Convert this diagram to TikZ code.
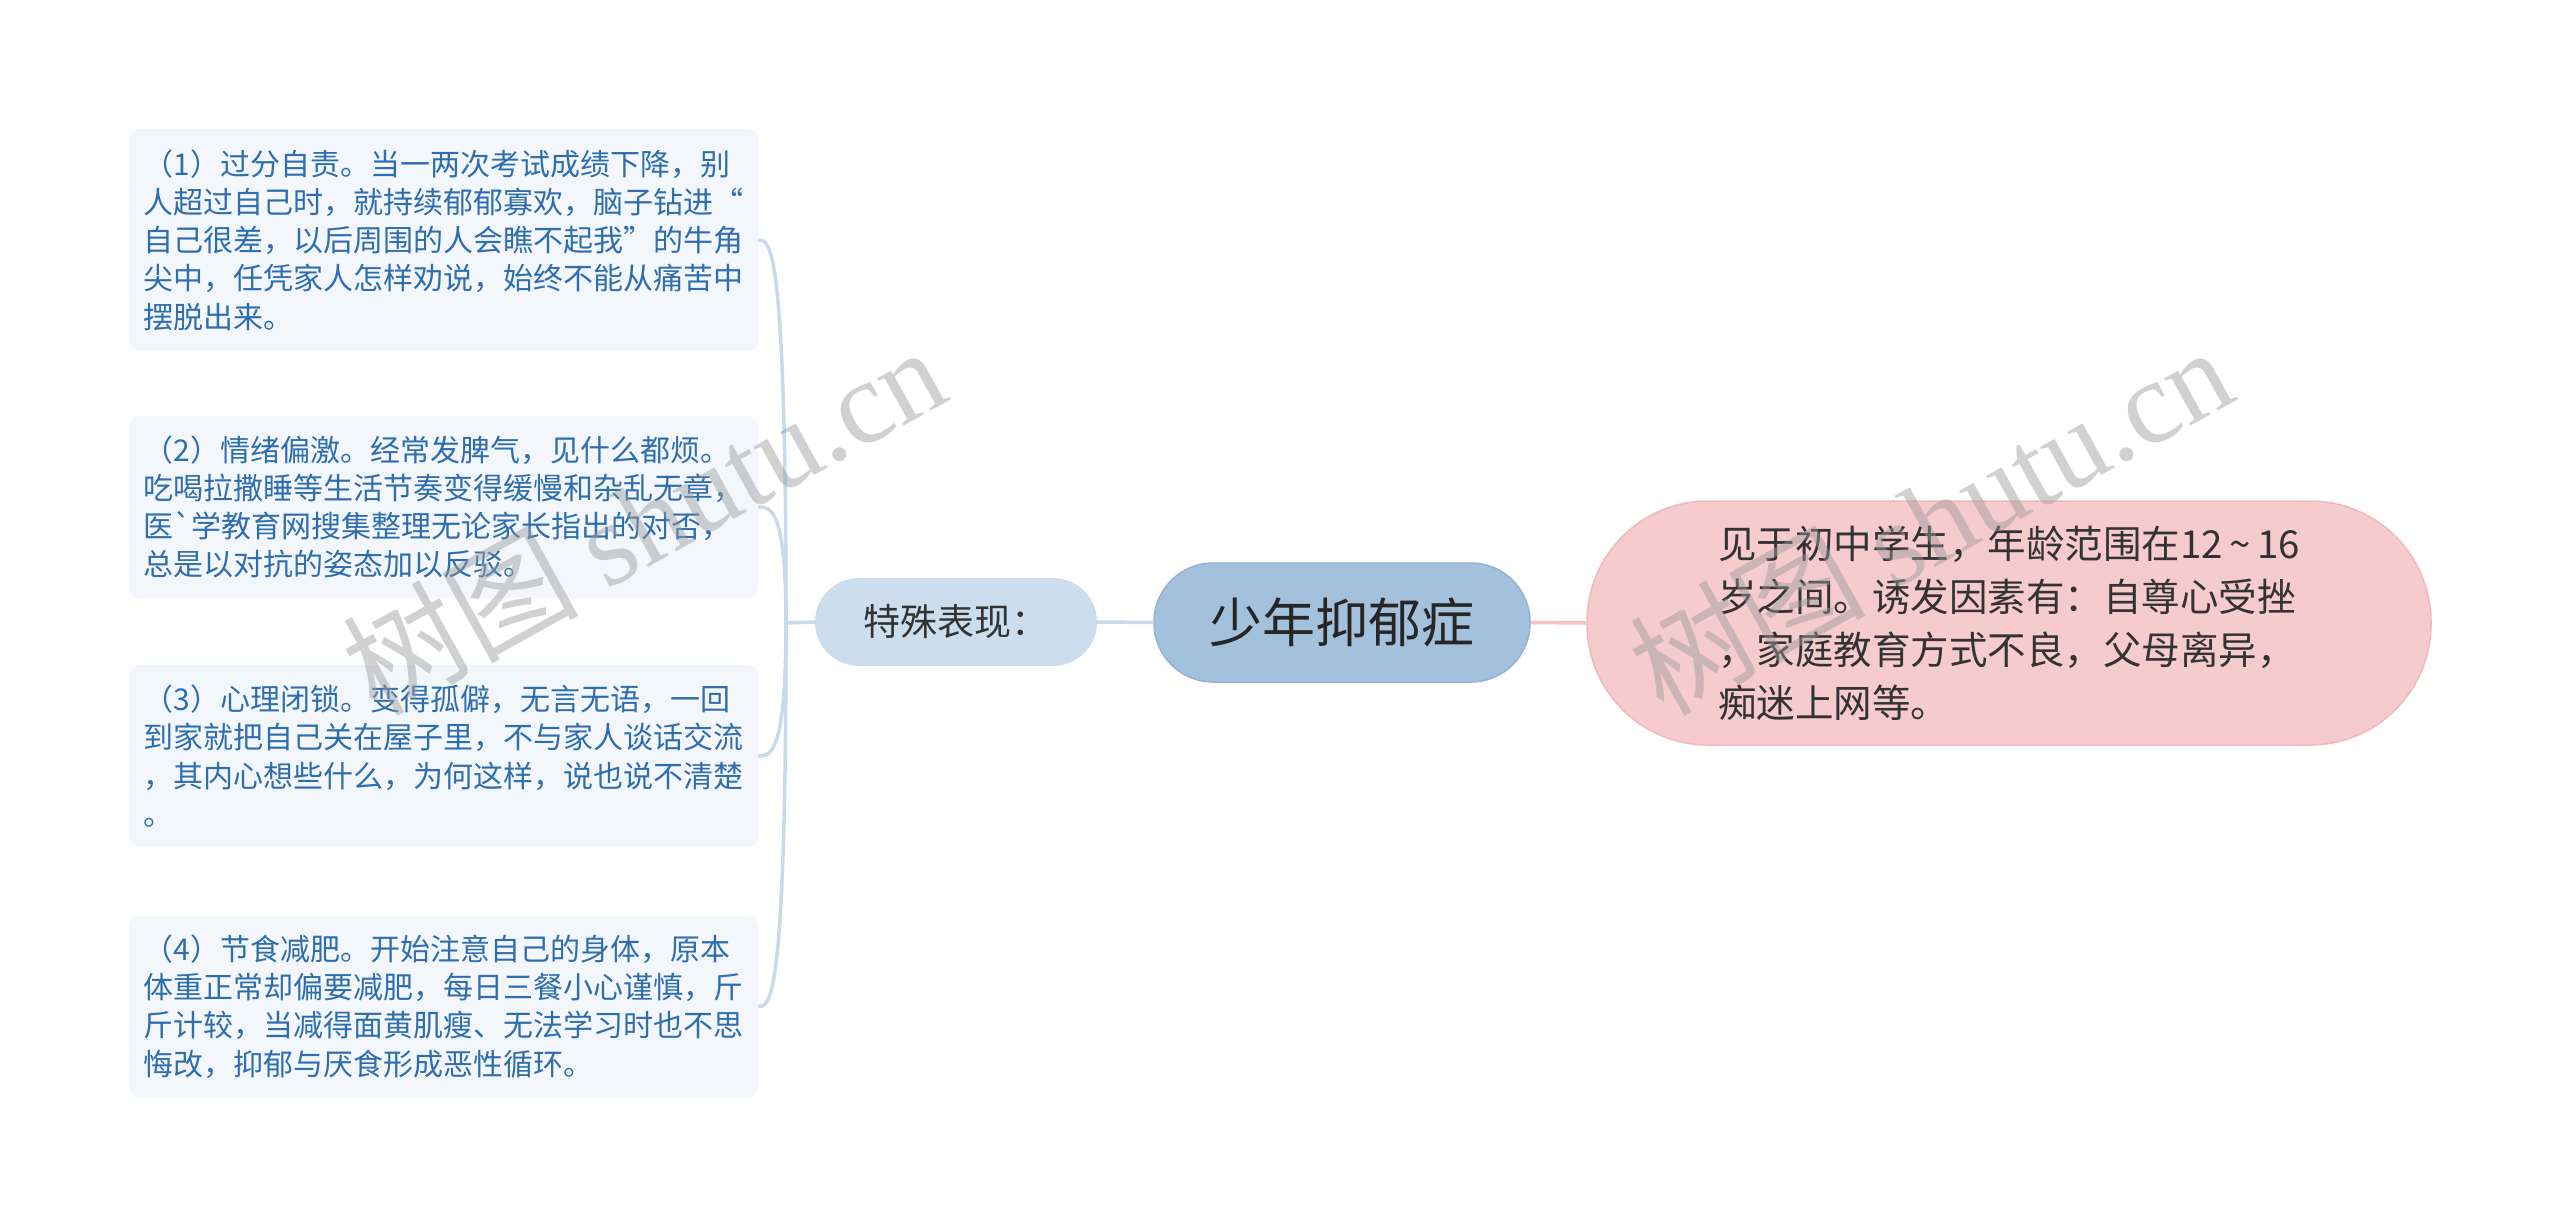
\documentclass[tikz,border=0pt]{standalone}
\usepackage{fontspec}
\setmainfont{Noto Sans CJK SC}
\newfontfamily\rawcjk{Noto Sans CJK SC}[Ligatures=TeXOff]
\newfontfamily\wmlatin{Liberation Serif}
\usetikzlibrary{calc}
\definecolor{leafbg}{HTML}{F3F7FC}
\definecolor{leaftext}{HTML}{2F6EAE}
\definecolor{linec}{HTML}{C9DAEB}
\definecolor{subbg}{HTML}{CCDDEE}
\definecolor{rootbg}{HTML}{A3C0DC}
\definecolor{rootbd}{HTML}{95B4D3}
\definecolor{pinkbg}{HTML}{F6CBCD}
\definecolor{pinkbd}{HTML}{EFBABD}
\definecolor{pinkline}{HTML}{F4C3C5}
\definecolor{txt}{HTML}{333333}
\definecolor{wmgray}{HTML}{9A9A9A}
\tikzset{
  leafbox/.style={fill=leafbg, rounded corners=10pt, minimum width=629pt, text width=600pt,
    inner xsep=14.5pt, align=left, text=leaftext, font=\fontsize{30}{38.3}\selectfont},
  subbox/.style={fill=subbg, rounded corners=44pt, minimum width=282pt, minimum height=88pt,
    text=txt, font=\fontsize{37}{44}\selectfont},
  rootbox/.style={fill=rootbg, draw=rootbd, line width=1.5pt, rounded corners=59pt, minimum width=376pt,
    minimum height=119pt, text=black!85, font=\fontsize{53}{60}\selectfont},
  rightbox/.style={fill=pinkbg, draw=pinkbd, line width=1.5pt, rounded corners=121pt, minimum width=844pt,
    minimum height=244pt, align=left, text=txt, font=\fontsize{38.5}{53}\selectfont},
  conn/.style={draw=linec, line width=3.5pt},
  pinkconn/.style={draw=pinkline, line width=3.5pt},
  wm/.style={text=wmgray, opacity=0.45, font=\fontsize{118}{130}\selectfont}
}
\begin{document}
\begin{tikzpicture}[x=1pt, y=-1pt]
\useasboundingbox (0,0) rectangle (2560,1227);
\fill[white] (0,0) rectangle (2560,1227);

\node[leafbox, minimum height=222pt] (l1) at (443.5,240) {（1）过分自责。当一两次考试成绩下降，别\\人超过自己时，就持续郁郁寡欢，脑子钻进“\\自己很差，以后周围的人会瞧不起我”的牛角\\尖中，任凭家人怎样劝说，始终不能从痛苦中\\摆脱出来。};
\node[leafbox, minimum height=182pt] (l2) at (443.5,507) {（2）情绪偏激。经常发脾气，见什么都烦。\\吃喝拉撒睡等生活节奏变得缓慢和杂乱无章，\\医{\rawcjk `}学教育网搜集整理无论家长指出的对否，\\总是以对抗的姿态加以反驳。};
\node[leafbox, minimum height=182pt] (l3) at (443.5,756) {（3）心理闭锁。变得孤僻，无言无语，一回\\到家就把自己关在屋子里，不与家人谈话交流\\，其内心想些什么，为何这样，说也说不清楚\\。};
\node[leafbox, minimum height=181pt] (l4) at (443.5,1006.5) {（4）节食减肥。开始注意自己的身体，原本\\体重正常却偏要减肥，每日三餐小心谨慎，斤\\斤计较，当减得面黄肌瘦、无法学习时也不思\\悔改，抑郁与厌食形成恶性循环。};

\node[subbox] (sub) at (956,622) {特殊表现：};
\node[rootbox] (root) at (1342,622.5) {少年抑郁症};
\node[rightbox] (right) at (2009,623) {见于初中学生，年龄范围在12\,\symbol{126}\,16\\岁之间。诱发因素有：自尊心受挫\\，家庭教育方式不良，父母离异，\\痴迷上网等。};

\coordinate (J) at (786,623);
\draw[conn] (J) -- (sub.west);
\draw[conn] (sub.east) -- (root.west);
\draw[pinkconn] (root.east) -- (right.west);
\foreach \l in {l1,l2,l3,l4}{
  \draw[conn] (J) .. controls (J |- \l.east) and ($(\l.east)+(12,0)$) .. (\l.east);
}

\node[wm, rotate=29] (wm1) at (643,519) {树图 {\wmlatin shutu.cn}};
\node[wm, rotate=29] (wm2) at (1930,519) {树图 {\wmlatin shutu.cn}};
\end{tikzpicture}
\end{document}
